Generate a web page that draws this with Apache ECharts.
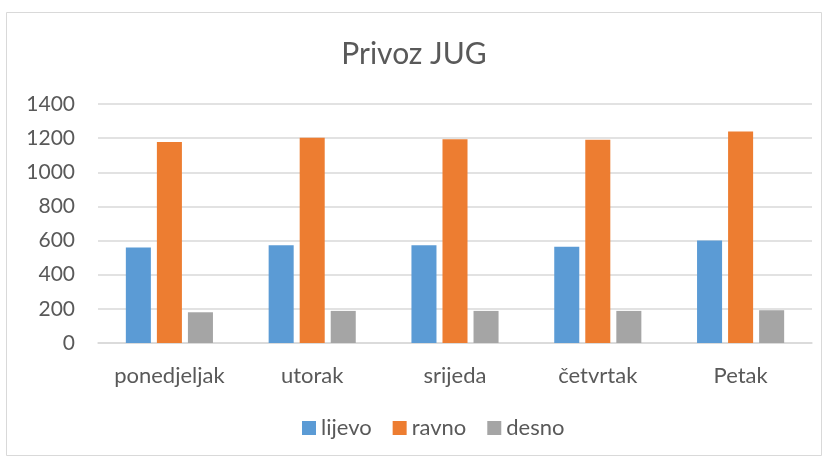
<!DOCTYPE html>
<html><head><meta charset="utf-8">
<script src="https://cdn.jsdelivr.net/npm/echarts@6/dist/echarts.min.js"></script>
<style>html,body{margin:0;padding:0;background:#fff}#c{width:828px;height:459px}</style>
</head><body><div id="c"></div>
<script>
var categories = ['ponedjeljak', 'utorak', 'srijeda', 'četvrtak', 'Petak'];
var lijevo = [560, 572, 572, 564, 601];
var ravno = [1177, 1202, 1194, 1190, 1239];
var desno = [180, 188, 188, 188, 192];
var yTicks = [0, 200, 400, 600, 800, 1000, 1200, 1400];

var font = 'Lato, "Open Sans", sans-serif';
var chart = echarts.init(document.getElementById('c'));
chart.setOption({
  animation: false,
  backgroundColor: '#fff',
  graphic: [{type: 'rect', shape: {x: 6.5, y: 12.5, width: 815, height: 443}, style: {fill: 'none', stroke: '#d9d9d9', lineWidth: 1}}],
  title: {text: 'Privoz JUG', left: 'center', top: 34, textStyle: {fontFamily: font, fontSize: 30, fontWeight: 'normal', color: '#595959'}},
  grid: {left: 98, right: 16, top: 104, bottom: 116, containLabel: false},
  legend: {bottom: 15, left: 297, itemWidth: 14, itemHeight: 14, itemGap: 21, icon: 'rect',
    textStyle: {fontFamily: font, fontSize: 22, color: '#595959'}},
  xAxis: {type: 'category', data: categories,
    axisLine: {lineStyle: {color: '#d9d9d9', width: 1.5}}, axisTick: {show: false},
    axisLabel: {interval: 0, fontFamily: font, fontSize: 22, color: '#595959', margin: 22}},
  yAxis: {type: 'value', min: yTicks[0], max: yTicks[yTicks.length - 1], interval: 200,
    axisLine: {show: false}, axisTick: {show: false},
    splitLine: {lineStyle: {color: '#d9d9d9', width: 1.5}},
    axisLabel: {fontFamily: font, fontSize: 21, color: '#595959', margin: 23, formatter: function (v) { return String(v); }}},
  series: [
    {name: 'lijevo', type: 'bar', data: lijevo, itemStyle: {color: '#5b9bd5'}, barGap: '24%', barCategoryGap: '39%'},
    {name: 'ravno', type: 'bar', data: ravno, itemStyle: {color: '#ed7d31'}},
    {name: 'desno', type: 'bar', data: desno, itemStyle: {color: '#a5a5a5'}}
  ]
});
</script></body></html>
